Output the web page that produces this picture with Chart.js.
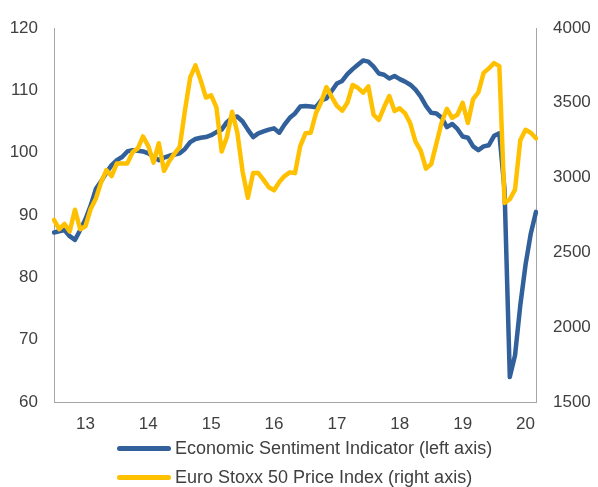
<!DOCTYPE html>
<html>
<head>
<meta charset="utf-8">
<script src="https://cdn.jsdelivr.net/npm/chart.js@4.4.1/dist/chart.umd.min.js"></script>
<style>
  html, body { margin: 0; padding: 0; background: #fff; }
  #wrap { position: relative; width: 598px; height: 487px; overflow: hidden; }
  #chart { position: absolute; left: 0; top: 0; }
  .leg { position: absolute; left: 117px; height: 20px; line-height: 20px; display: flex; align-items: center;
         font: 18px "Liberation Sans", Arial, sans-serif; color: #404040; white-space: nowrap; }
  .leg i { display: inline-block; width: 54px; height: 5px; border-radius: 3px; margin-right: 4px; }
</style>
</head>
<body>
<div id="wrap">
  <canvas id="chart" width="598" height="487"></canvas>
  <div class="leg" style="top:438px"><i style="background:#31609A"></i>Economic Sentiment Indicator (left axis)</div>
  <div class="leg" style="top:467px"><i style="background:#FFC000"></i>Euro Stoxx 50 Price Index (right axis)</div>
</div>
<script>
// 月次データ 2013年1月〜2020年9月
const startYear = 2013;
const yearLabels = ["13", "14", "15", "16", "17", "18", "19", "20"];

// Economic Sentiment Indicator (左軸)
const esi = [
  87.2, 87.4, 87.6, 86.6, 86.0, 87.6, 89.3, 91.5, 94.2, 95.4, 96.8, 98.0,
  98.8, 99.3, 100.2, 100.4, 100.3, 100.2, 99.9, 99.3, 98.8, 99.2, 99.5, 99.7,
  99.9, 100.6, 101.7, 102.2, 102.4, 102.5, 102.8, 103.3, 103.7, 104.9, 105.6, 105.8,
  105.0, 103.7, 102.5, 103.1, 103.4, 103.7, 103.9, 103.2, 104.5, 105.6, 106.3, 107.4,
  107.5, 107.4, 107.3, 108.4, 108.7, 109.9, 111.1, 111.5, 112.6, 113.4, 114.1, 114.8,
  114.6, 113.8, 112.7, 112.5, 111.9, 112.3, 111.8, 111.4, 110.9, 110.1, 109.0, 107.5,
  106.4, 106.3, 105.6, 104.1, 104.6, 103.8, 102.6, 102.4, 101.0, 100.4, 101.0, 101.2,
  102.7, 103.1, 94.0, 64.0, 67.5, 75.5, 82.0, 87.0, 90.5
];

// Euro Stoxx 50 (右軸)
const stoxx = [
  2717, 2655, 2690, 2640, 2785, 2655, 2675, 2790, 2860, 2970, 3050, 3010,
  3095, 3095, 3095, 3170, 3195, 3275, 3210, 3100, 3230, 3045, 3110, 3160,
  3205, 3450, 3670, 3750, 3650, 3535, 3550, 3470, 3175, 3270, 3440, 3300,
  3040, 2865, 3030, 3030, 2985, 2935, 2915, 2970, 3010, 3035, 3030, 3210,
  3296, 3300, 3430, 3505, 3605, 3540, 3480, 3447, 3500, 3619, 3600, 3568,
  3610, 3420, 3385, 3470, 3545, 3445, 3463, 3430, 3363, 3240, 3180, 3060,
  3090, 3230, 3370, 3460, 3400, 3420, 3500, 3365, 3525, 3570, 3700, 3730,
  3765, 3745, 2830, 2855, 2920, 3250, 3320, 3300, 3263
];

const months = [];
for (let i = 0; i < esi.length; i++) {
  const y = startYear + Math.floor(i / 12);
  const m = (i % 12) + 1;
  months.push(y + "-" + (m < 10 ? "0" + m : m));
}

const axisColor = "#A6A6A6";
const textColor = "#404040";
const font = { family: "'Liberation Sans', Arial, sans-serif", size: 17 };

let config = {
  type: "line",
  data: {
    labels: months,
    datasets: [{
      label: "Economic Sentiment Indicator (left axis)",
      data: esi,
      yAxisID: "y",
      borderColor: "#31609A",
      borderWidth: 4.5,
      pointRadius: 0,
      borderCapStyle: "round",
      borderJoinStyle: "round",
      order: 1
    }, {
      label: "Euro Stoxx 50 Price Index (right axis)",
      data: stoxx,
      yAxisID: "y2",
      borderColor: "#FFC000",
      borderWidth: 4.5,
      pointRadius: 0,
      borderCapStyle: "round",
      borderJoinStyle: "round",
      order: 0
    }]
  },
  options: {
    responsive: false,
    animation: false,
    layout: { padding: { top: 28, bottom: 55, left: 0, right: 0 } },
    plugins: { legend: { display: false }, tooltip: { enabled: false } },
    scales: {
      x: {
        offset: false,
        grid: { display: false, drawTicks: false },
        border: { display: true, color: axisColor, width: 1 },
        afterFit: function(s) { s.height = 30; },
        ticks: {
          autoSkip: false,
          maxRotation: 0,
          padding: 12,
          color: textColor,
          font: font,
          callback: function(v, i) {
            return i % 12 === 6 ? yearLabels[(i - 6) / 12] : null;
          }
        }
      },
      y: {
        position: "left",
        min: 60, max: 120,
        grid: { display: false, drawTicks: false },
        border: { display: true, color: axisColor, width: 1 },
        afterFit: function(s) { s.width = 54; },
        ticks: { stepSize: 10, padding: 16, color: textColor, font: font }
      },
      y2: {
        position: "right",
        min: 1500, max: 4000,
        grid: { display: false, drawTicks: false },
        border: { display: true, color: axisColor, width: 1 },
        afterFit: function(s) { s.width = 62; },
        ticks: {
          stepSize: 500, padding: 17, color: textColor, font: font,
          callback: function(v) { return String(v); }
        }
      }
    }
  }
};

window.addEventListener("load", function() {
  let ctx = document.getElementById("chart").getContext("2d");
  myChart = new Chart(ctx, config);
}, false);
</script>
</body>
</html>
